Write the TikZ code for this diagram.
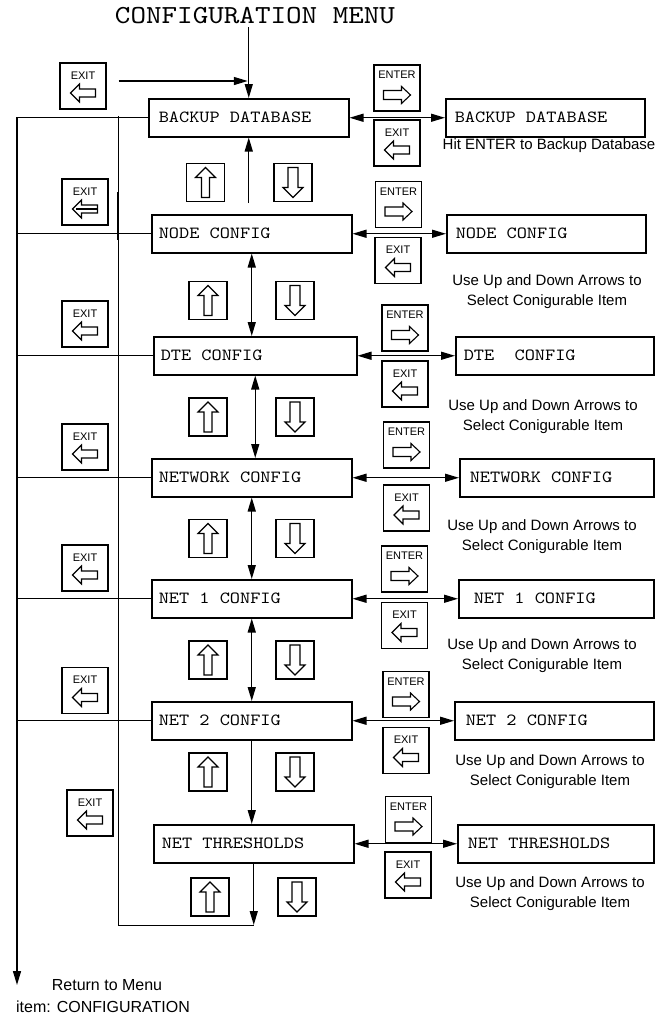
\documentclass[tikz,border=0pt]{standalone}
\usepackage{fontspec}
\setmainfont{Liberation Sans}
\newfontfamily\cour{lmmono10-regular.otf}[FakeStretch=1.14]
\newcommand\msp{\phantom{X}}
\usetikzlibrary{arrows.meta}
\begin{document}
\begin{tikzpicture}[x=1pt,y=-1pt,
  every node/.style={inner sep=0pt},
  ln/.style={line width=1.4pt},
  tip/.style={ln,-{Triangle[length=14pt,width=8pt]}},
  dbl/.style={ln,{Triangle[length=14pt,width=8pt]}-{Triangle[length=14pt,width=8pt]}},
  mbox/.style={draw,line width=1.5pt,anchor=north west,minimum height=38pt,align=left,font=\cour\fontsize{17}{20}\selectfont},
  rbox/.style={mbox},
  desc/.style={font=\fontsize{15}{20}\selectfont,align=center},
  keybox/.style={draw,line width=1.4pt,minimum width=46pt,minimum height=46pt,font=\fontsize{11}{12}\selectfont,text height=8pt},
  exitkey/.style={keybox,text depth=22pt,path picture={
    \draw[line width=1.1pt] ([yshift=-7pt]path picture bounding box.center) ++(-12.5pt,0pt) -- ++(9pt,9pt) -- ++(0pt,-5pt) -- ++(16pt,0pt) -- ++(0pt,-8pt) -- ++(-16pt,0pt) -- ++(0pt,-5pt) -- cycle;}},
  exitkeyb/.style={exitkey,path picture={
    \draw[line width=1.1pt] ([yshift=-7pt]path picture bounding box.center) ++(-12.5pt,0pt) -- ++(9pt,9pt) -- ++(0pt,-5pt) -- ++(16pt,0pt) -- ++(0pt,-8pt) -- ++(-16pt,0pt) -- ++(0pt,-5pt) -- cycle;
    \draw[line width=1.1pt] ([yshift=-7pt]path picture bounding box.center) ++(-9pt,0pt) -- ++(21.5pt,0pt);}},
  enterkey/.style={keybox,text depth=27pt,path picture={
    \draw[line width=1.1pt] ([yshift=-7pt]path picture bounding box.center) ++(-13.5pt,4.5pt) -- ++(18pt,0pt) -- ++(0pt,4pt) -- ++(9pt,-8.5pt) -- ++(-9pt,-8.5pt) -- ++(0pt,4pt) -- ++(-18pt,0pt) -- cycle;}},
  upkey/.style={draw,line width=1.4pt,minimum width=38pt,minimum height=38pt,path picture={
    \draw[line width=1.1pt] (path picture bounding box.center) ++(0pt,15pt) -- ++(10pt,-10pt) -- ++(-6pt,0pt) -- ++(0pt,-20pt) -- ++(-8pt,0pt) -- ++(0pt,20pt) -- ++(-6pt,0pt) -- cycle;}},
  downkey/.style={draw,line width=1.4pt,minimum width=38pt,minimum height=38pt,path picture={
    \draw[line width=1.1pt] (path picture bounding box.center) ++(0pt,-15pt) -- ++(10pt,10pt) -- ++(-5pt,0pt) -- ++(0pt,20pt) -- ++(-10pt,0pt) -- ++(0pt,-20pt) -- ++(-5pt,0pt) -- cycle;}}
]
\useasboundingbox (0,0) rectangle (655,1015);

% title
\node[font=\cour\fontsize{26}{30}\selectfont] (title) at (255,16) {CONFIGURATION\msp MENU};

% main boxes
\node[mbox,text width=180pt,inner xsep=10pt] (backup) at (148,98) {BACKUP\msp DATABASE};
\node[mbox,text width=186pt,inner xsep=7pt] (nodec) at (151,214) {NODE\msp CONFIG};
\node[mbox,text width=189pt,inner xsep=7pt] (dte) at (153,336) {DTE\msp CONFIG};
\node[mbox,text width=186pt,inner xsep=7pt] (network) at (151,458) {NETWORK\msp CONFIG};
\node[mbox,text width=186pt,inner xsep=7pt] (net1) at (151,579) {NET\msp 1\msp CONFIG};
\node[mbox,text width=186pt,inner xsep=7pt] (net2) at (151,701) {NET\msp 2\msp CONFIG};
\node[mbox,text width=184pt,inner xsep=8pt] (netthr) at (153,824) {NET\msp THRESHOLDS};

% right boxes
\node[rbox,text width=181pt,inner xsep=9pt] (rbackup) at (445,98) {BACKUP\msp DATABASE};
\node[rbox,text width=181pt,inner xsep=9pt] (rnode) at (446,214) {NODE\msp CONFIG};
\node[rbox,text width=182pt,inner xsep=8pt] (rdte) at (455,336) {DTE\msp\msp CONFIG};
\node[rbox,text width=174pt,inner xsep=10pt] (rnetwork) at (459,458) {NETWORK\msp CONFIG};
\node[rbox,text width=165pt,inner xsep=15pt] (rnet1) at (458,579) {NET\msp 1\msp CONFIG};
\node[rbox,text width=177pt,inner xsep=11pt] (rnet2) at (454,701) {NET\msp 2\msp CONFIG};
\node[rbox,text width=176pt,inner xsep=10pt] (rnetthr) at (457,824) {NET\msp THRESHOLDS};

% descriptions
\node[desc] (h0) at (549,146) {Hit ENTER to Backup Database};
\node[desc] (h1) at (547,292) {Use Up and Down Arrows to\\Select Conigurable Item};
\node[desc] (h2) at (543,416.5) {Use Up and Down Arrows to\\Select Conigurable Item};
\node[desc] (h3) at (542,537) {Use Up and Down Arrows to\\Select Conigurable Item};
\node[desc] (h4) at (542,655.5) {Use Up and Down Arrows to\\Select Conigurable Item};
\node[desc] (h5) at (550,772) {Use Up and Down Arrows to\\Select Conigurable Item};
\node[desc] (h6) at (550,894) {Use Up and Down Arrows to\\Select Conigurable Item};

% ENTER / EXIT keys on the right
\node[enterkey] (en1) at (397,88) {ENTER};
\node[exitkey] (xr1) at (397,143) {EXIT};
\node[enterkey] (en2) at (398.5,204.5) {ENTER};
\node[exitkey] (xr2) at (398,260.5) {EXIT};
\node[enterkey] (en3) at (405,328) {ENTER};
\node[exitkey] (xr3) at (405,384) {EXIT};
\node[enterkey] (en4) at (406.5,445) {ENTER};
\node[exitkey] (xr4) at (406.5,508) {EXIT};
\node[enterkey] (en5) at (404.5,569) {ENTER};
\node[exitkey] (xr5) at (404.5,625.5) {EXIT};
\node[enterkey] (en6) at (406,694.5) {ENTER};
\node[exitkey] (xr6) at (406,750.5) {EXIT};
\node[enterkey] (en7) at (408.5,819.5) {ENTER};
\node[exitkey] (xr7) at (408,875) {EXIT};

% EXIT keys on the left
\node[exitkey] (ex0) at (83,86) {EXIT};
\node[exitkeyb] (ex1) at (85,202) {EXIT};
\node[exitkey] (ex2) at (85,324) {EXIT};
\node[exitkey] (ex3) at (85,447) {EXIT};
\node[exitkey] (ex4) at (85,568) {EXIT};
\node[exitkey] (ex5) at (85,690.5) {EXIT};
\node[exitkey] (ex6) at (90,813) {EXIT};

% up / down keys
\node[upkey] (u1) at (205.5,182.5) {}; \node[downkey] (d1) at (293,182.5) {};
\node[upkey] (u2) at (208,300.5) {};   \node[downkey] (d2) at (295,300.5) {};
\node[upkey] (u3) at (208,417) {};     \node[downkey] (d3) at (295,417) {};
\node[upkey] (u4) at (208,538.5) {};   \node[downkey] (d4) at (295,538.5) {};
\node[upkey] (u5) at (208,660) {};     \node[downkey] (d5) at (295,660) {};
\node[upkey] (u6) at (208,772) {};     \node[downkey] (d6) at (295,772) {};
\node[upkey] (u7) at (210,897) {};     \node[downkey] (d7) at (297,897) {};

% bottom text
\node[font=\fontsize{16}{19}\selectfont] (rt1) at (107,985) {Return to Menu};
\node[font=\fontsize{16}{19}\selectfont] (rt2) at (103,1007) {item: CONFIGURATION};

% coordinates
\coordinate (oTop) at (17,117);
\coordinate (oBot) at (17,985);
\coordinate (iTop) at (118,116);
\coordinate (iBot) at (118,925);
\coordinate (iEnd) at (netthr.south |- iBot);

% connectors
\draw[tip,shorten <=3pt] (title.south -| backup.north) -- (backup.north);
\draw[tip,shorten <=12pt,shorten >=1pt] ([yshift=5pt]ex0.east) -- ([yshift=5pt]ex0.east -| backup.north);
\draw[tip,shorten <=11pt] (backup.south |- nodec.north) -- (backup.south);
\draw[dbl] (nodec.south) -- (nodec.south |- dte.north);
\draw[dbl] (network.north -| dte.south) -- (dte.south);
\draw[dbl] (network.south) -- (network.south |- net1.north);
\draw[dbl] (net1.south) -- (net1.south |- net2.north);
\draw[tip] (net2.south) -- (net2.south |- netthr.north);
\draw[tip] (netthr.south) -- (iEnd);

\foreach \m/\r in {backup/rbackup,nodec/rnode,dte/rdte,network/rnetwork,net1/rnet1,net2/rnet2,netthr/rnetthr}
  \draw[dbl] (\m.east) -- (\m.east -| \r.west);

\draw[tip] (oTop) -- (oBot);
\foreach \m in {backup,nodec,dte,network,net1,net2}
  \draw[ln] (\m.west -| oTop) -- (\m.west);

\draw[line width=1pt] (iTop) -- (iBot) -- (iEnd);
\draw[line width=2.8pt] (118,192) -- (118,240);
\end{tikzpicture}
\end{document}
